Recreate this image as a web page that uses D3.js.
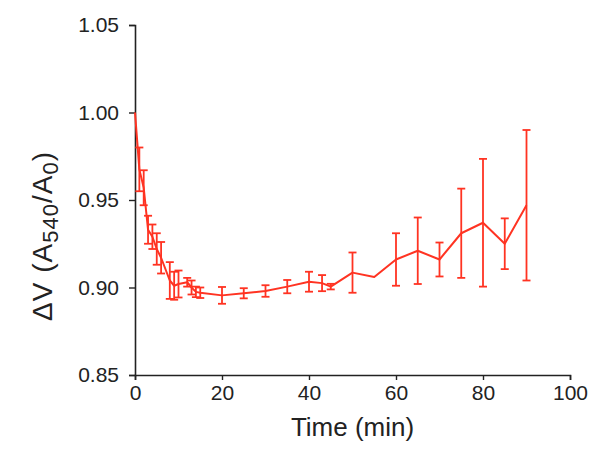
<!DOCTYPE html>
<html>
<head>
<meta charset="utf-8">
<script src="https://cdn.jsdelivr.net/npm/d3@7"></script>
<style>
  html, body { margin: 0; padding: 0; background: #fff; }
  svg { display: block; font-family: "Liberation Sans", Arial, sans-serif; }
</style>
</head>
<body>
<svg id="chart" width="600" height="460"></svg>
<script>
// ---- data ----
const times = [0, 1, 2, 3, 4, 5, 6, 8, 9, 10, 12, 13, 14, 15, 20, 25, 30, 35, 40, 43, 45, 50, 55, 60, 65, 70, 75, 80, 85, 90];
const means = [1.000, 0.9675, 0.957, 0.933, 0.929, 0.922, 0.917, 0.904, 0.901, 0.902, 0.903, 0.900, 0.8975, 0.897, 0.8955, 0.8967, 0.898, 0.9005, 0.9033, 0.9025, 0.9005, 0.9085, 0.906, 0.916, 0.921, 0.916, 0.931, 0.937, 0.925, 0.947];
const errs  = [0, 0.0125, 0.010, 0.008, 0.007, 0.009, 0.009, 0.0105, 0.008, 0.0077, 0.0025, 0.004, 0.003, 0.003, 0.0048, 0.0029, 0.0033, 0.0038, 0.0057, 0.0046, 0.0016, 0.0115, 0, 0.015, 0.019, 0.0097, 0.0255, 0.0365, 0.0145, 0.043];
const xTicks = [0, 20, 40, 60, 80, 100];
const yTicks = [0.85, 0.90, 0.95, 1.00, 1.05];
const xTitle = "Time (min)";

const color = "#ff3322";

const svg = d3.select("#chart");
const x = d3.scaleLinear().domain([0, 100]).range([135, 570]);
const y = d3.scaleLinear().domain([0.85, 1.05]).range([375, 25]);

const data = times.map((t, i) => ({ t, m: means[i], e: errs[i] }));

// axes
const xAxis = svg.append("g")
  .attr("transform", `translate(0,${y(0.85)})`)
  .call(d3.axisBottom(x).tickValues(xTicks).tickFormat(d3.format("d")).tickSize(5).tickPadding(5));
const yAxis = svg.append("g")
  .attr("transform", `translate(${x(0)},0)`)
  .call(d3.axisLeft(y).tickValues(yTicks).tickFormat(d3.format(".2f")).tickSize(6).tickPadding(10));

[xAxis, yAxis].forEach(g => {
  g.select(".domain").attr("stroke", "#222").attr("stroke-width", 1.6);
  g.selectAll(".tick line").attr("stroke", "#222").attr("stroke-width", 1.4);
  g.selectAll(".tick text").attr("fill", "#222").style("font-size", "21px")
   .style("font-family", "'Liberation Sans', Arial, sans-serif");
});

// error bars
const cap = 4;
const eb = svg.append("g").attr("stroke", color).attr("stroke-width", 1.8).attr("fill", "none");
data.filter(d => d.e > 0).forEach(d => {
  const cx = x(d.t), y1 = y(d.m + d.e), y2 = y(d.m - d.e);
  eb.append("line").attr("x1", cx).attr("x2", cx).attr("y1", y1).attr("y2", y2);
  eb.append("line").attr("x1", cx - cap).attr("x2", cx + cap).attr("y1", y1).attr("y2", y1);
  eb.append("line").attr("x1", cx - cap).attr("x2", cx + cap).attr("y1", y2).attr("y2", y2);
});

// line
svg.append("path")
  .datum(data)
  .attr("fill", "none")
  .attr("stroke", color)
  .attr("stroke-width", 2)
  .attr("stroke-linejoin", "round")
  .attr("d", d3.line().x(d => x(d.t)).y(d => y(d.m)));

// x title
svg.append("text")
  .attr("x", (x(0) + x(100)) / 2)
  .attr("y", 436)
  .attr("text-anchor", "middle")
  .attr("fill", "#222")
  .style("font-size", "26px")
  .text(xTitle);

// y title with subscripts
const yt = svg.append("text")
  .attr("transform", "translate(52,236) rotate(-90)")
  .attr("text-anchor", "middle")
  .attr("fill", "#222")
  .style("font-size", "28px")
  .style("letter-spacing", "1px");
yt.append("tspan").text("ΔV (A");
yt.append("tspan").attr("dy", 6).style("font-size", "22px").text("540");
yt.append("tspan").attr("dy", -6).text("/A");
yt.append("tspan").attr("dy", 6).style("font-size", "22px").text("0");
yt.append("tspan").attr("dy", -6).text(")");
</script>
</body>
</html>
